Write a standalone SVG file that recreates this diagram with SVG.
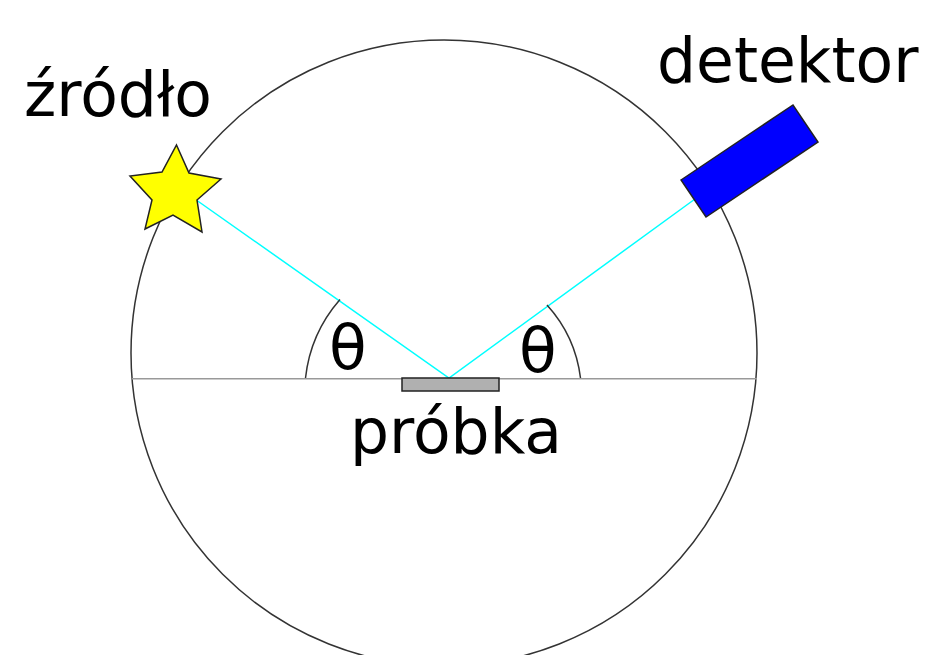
<svg xmlns="http://www.w3.org/2000/svg" width="925" height="655" viewBox="0 0 925 655">
<style>
text{font-family:"DejaVu Sans",sans-serif;font-size:61.5px;fill:#000}
.l{fill:none;stroke:#333;stroke-width:1.5}
.b{fill:none;stroke:#0ff;stroke-width:1.5}
.s{stroke:#222;stroke-width:1.5}
</style>
<rect width="925" height="655" fill="#fff"/>
<g id="circle"><circle class="l" cx="444" cy="353" r="313"/></g>
<g id="connectors">
<path d="M132 378.7H757" fill="none" stroke="#999" stroke-width="1.5"/>
<path class="b" d="M197 200.5L449 378L695 199"/>
<path class="l" d="M305.500 378A143 143 0 0 1 340 299.500"/>
<path class="l" d="M580.500 378A133 133 0 0 0 547 305"/>
</g>
<g id="zrodlo"><polygon class="s" points="176.500,145 189,173 221,179 197,200 202,232 173,215 145,229 152,200 130,176 162,172" fill="#ff0"/>
<text x="24" y="116">źródło</text></g>
<g id="detektor"><polygon class="s" points="681,180 793,105 818,142 706,217" fill="#00f"/>
<text x="657" y="82">detektor</text></g>
<g id="probka"><rect class="s" x="402" y="378" width="97" height="13" fill="#b0b0b0"/>
<text x="350" y="453">próbka</text></g>
<g id="theta"><text x="329" y="369">θ</text><text x="519" y="372">θ</text></g>
</svg>
